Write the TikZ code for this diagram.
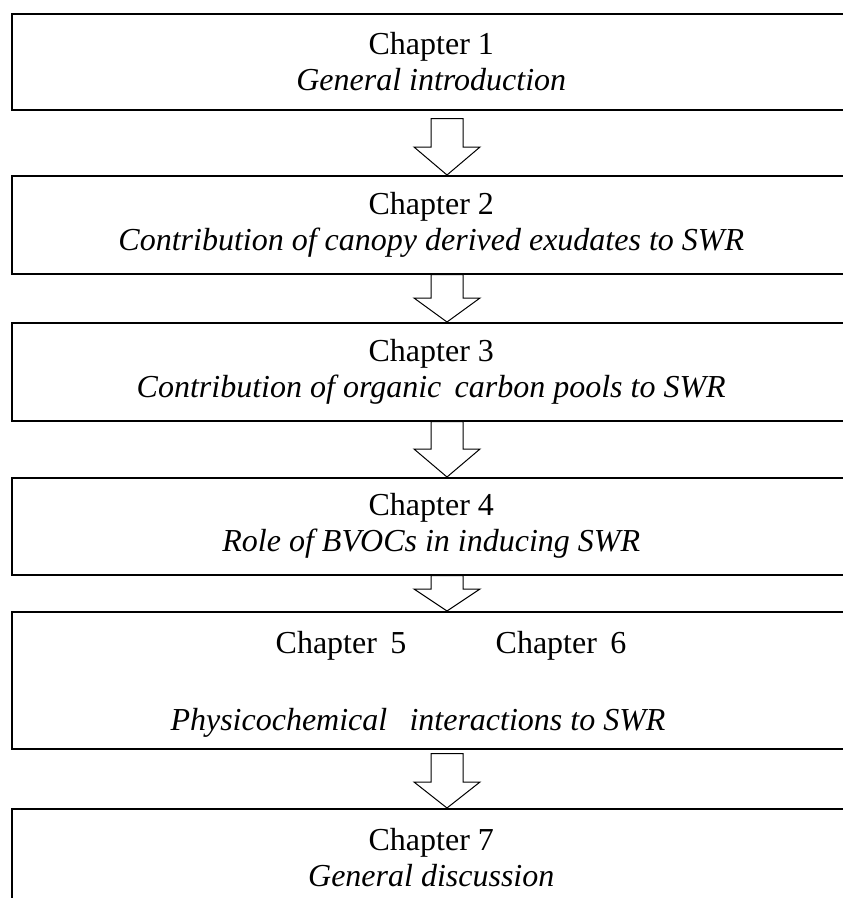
\documentclass[tikz,border=0pt]{standalone}
\usepackage{fontspec}
\setmainfont{Liberation Serif}
\usepackage{tikz}
\usetikzlibrary{calc,positioning}

\newcommand{\chaparrow}[4]{% from, to, gap below from, head length
  \draw[hollow] let \p1=(#1.south), \p2=(#2.north) in
    (431pt,\y1-#3) -- (463pt,\y1-#3) -- (463pt,\y2+#4) -- (480pt,\y2+#4)
    -- (447pt,\y2) -- (414pt,\y2+#4) -- (431pt,\y2+#4) -- cycle;}

\begin{document}
\begin{tikzpicture}[x=1pt,y=-1pt,
    chapbox/.style={draw,line width=1.5pt,rectangle,minimum width=839pt,
      anchor=north west,align=center,inner sep=0pt,
      font=\fontsize{32}{36}\selectfont},
    chaptext/.style={anchor=base,inner sep=0pt,font=\fontsize{32}{36}\selectfont},
    hollow/.style={draw,fill=white,line width=1pt,line join=miter}]
   \useasboundingbox (0,0) rectangle (843,898);
   \clip (0,0) rectangle (843,898);
   \node[chapbox,minimum height=96pt] (c1) at (11,13)
      {Chapter 1\\ \textit{General introduction}};
   \node[chapbox,minimum height=98pt] (c2) at (11,175)
      {Chapter 2\\ \textit{Contribution of canopy derived exudates to SWR}};
   \node[chapbox,minimum height=98pt] (c3) at (11,322)
      {Chapter 3\\ \textit{Contribution of organic\, carbon pools to SWR}};
   \node[chapbox,minimum height=97pt] (c4) at (11,477)
      {Chapter 4\\ \textit{Role of BVOCs in inducing SWR}};
   \node[chapbox,minimum height=137pt] (c5) at (11,611) {};
   % last box runs past the lower edge
   \node[chapbox,minimum height=98pt] (c6) at (11,808)
      {Chapter 7\\ \textit{General discussion}};
   % chapters 5 and 6 share one box
   \node[chaptext] (ch5) at (341,653) {Chapter\, 5};
   \node[chaptext] (ch6) at (561,653) {Chapter\, 6};
   \node[chaptext] (phys) at (418,730) {\textit{Physicochemical\;\, interactions to SWR}};
   \chaparrow{c1}{c2}{8pt}{28pt}
   \chaparrow{c2}{c3}{0pt}{24pt}
   \chaparrow{c3}{c4}{0pt}{28pt}
   \chaparrow{c4}{c5}{0pt}{22pt}
   \chaparrow{c5}{c6}{4pt}{26pt}
\end{tikzpicture}
\end{document}
